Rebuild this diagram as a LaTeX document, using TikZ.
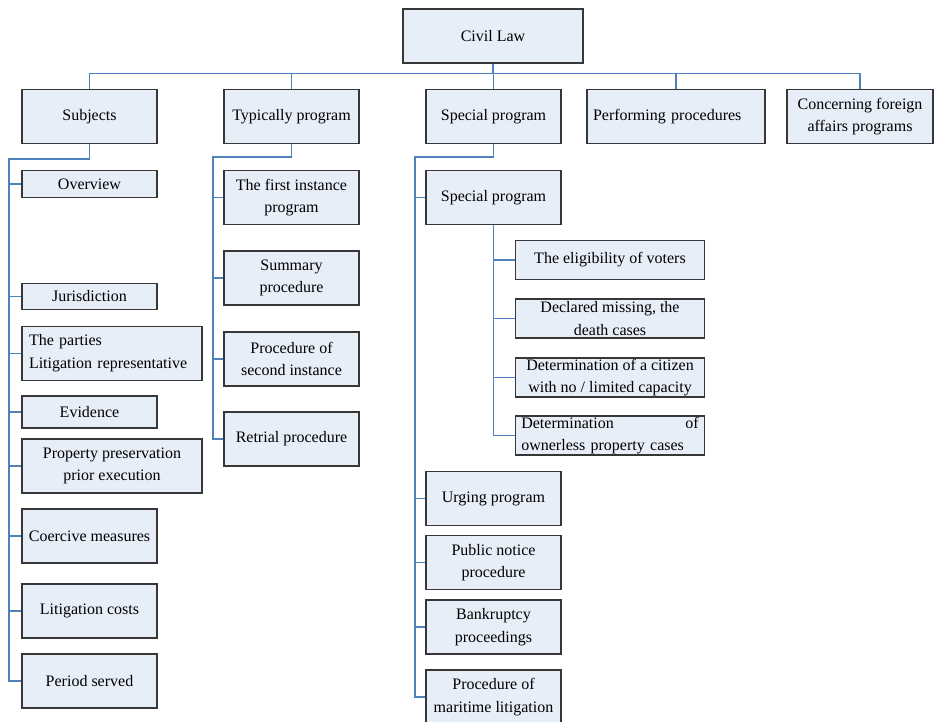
\documentclass[tikz,border=0pt]{standalone}
\usepackage{fontspec}
\setmainfont{Liberation Serif}
\usepackage{tikz}
\definecolor{boxfill}{RGB}{232,238,247}
\definecolor{boxline}{RGB}{55,55,55}
\definecolor{linkblue}{RGB}{79,129,189}
\begin{document}
\begin{tikzpicture}[x=0.75pt, y=-0.75pt,
    every node/.style={rectangle, draw=boxline, fill=boxfill, line width=0.8pt,
        inner sep=2pt, align=center, font=\fontsize{12}{17}\selectfont},
    link/.style={draw=linkblue, line width=0.8pt},
    top/.style={minimum width=101.25pt, minimum height=41pt},
    std/.style={minimum width=101.25pt, minimum height=40.5pt},
    wide/.style={minimum width=135pt, minimum height=40.5pt},
    thin/.style={minimum width=101.25pt, minimum height=20pt},
    sub/.style={minimum width=141.75pt, minimum height=29.25pt, inner ysep=0.3pt}]
\useasboundingbox (0,0) rectangle (934,721);
% root and first level
\node[wide] (civil) at (493,36) {Civil Law};
\node[top] (subj) at (89.5,116.5) {Subjects};
\node[top] (typ) at (291.5,116.5) {Typically program};
\node[top] (spec) at (493.5,116.5) {Special program};
\node[top, minimum width=133.5pt, text width=124.5pt, inner xsep=4.5pt, align=left] (perf) at (676,116.5) {Performing procedures};
\node[top, minimum width=109.5pt] (forgn) at (860,116.5) {Concerning foreign\\affairs programs};
% subjects
\node[thin] (overview) at (89.5,184) {Overview};
\node[thin] (juris) at (89.5,296.5) {Jurisdiction};
\node[wide, text width=124.5pt, inner xsep=5pt, align=left] (parties) at (112,353.5) {The parties\\Litigation representative};
\node[thin, minimum height=24pt] (evid) at (89.5,412) {Evidence};
\node[wide] (prop) at (112,466) {Property preservation\\prior execution};
\node[std] (coerc) at (89.5,536) {Coercive measures};
\node[std] (costs) at (89.5,611) {Litigation costs};
\node[std] (period) at (89.5,681) {Period served};
% typically program
\node[std] (first) at (291.5,197.5) {The first instance\\program};
\node[std] (summ) at (291.5,278) {Summary\\procedure};
\node[std] (second) at (291.5,359) {Procedure of\\second instance};
\node[std] (retrial) at (291.5,439) {Retrial procedure};
% special program
\node[std] (specp) at (493.5,197.5) {Special program};
\node[sub] (voters) at (610,260) {The eligibility of voters};
\node[sub] (missing) at (610,318.5) {Declared missing, the\\death cases};
\node[sub] (capac) at (610,377.5) {Determination of a citizen\\with no / limited capacity};
\node[sub, text width=133pt, align=left] (ownerless) at (610,435.5) {\hbox to 133pt{Determination\hfill of}\\ownerless property cases};
\node[std] (urging) at (493.5,498.5) {Urging program};
\node[std] (notice) at (493.5,562.5) {Public notice\\procedure};
\node[std] (bankr) at (493.5,627) {Bankruptcy\\proceedings};
\node[std] (maritime) at (493.5,697) {Procedure of\\maritime litigation};
% connectors
\draw[link] (civil.south) -- ++(0,10) coordinate (bus);
\foreach \n in {subj,typ,spec,perf,forgn}
    \draw[link] (bus) -| (\n.north);
\coordinate (sj) at (9,159);
\draw[link] (subj.south) |- (sj) |- (period.west);
\foreach \n in {overview,juris,parties,evid,prop,coerc,costs}
    \draw[link] (sj |- \n.west) -- (\n.west);
\coordinate (tj) at (213,157);
\draw[link] (typ.south) |- (tj) |- (retrial.west);
\foreach \n in {first,summ,second}
    \draw[link] (tj |- \n.west) -- (\n.west);
\coordinate (pj) at (415,157);
\draw[link] (spec.south) |- (pj) |- (maritime.west);
\foreach \n in {specp,urging,notice,bankr}
    \draw[link] (pj |- \n.west) -- (\n.west);
\draw[link] (specp.south) |- (ownerless.west);
\foreach \n in {voters,missing,capac}
    \draw[link] (specp.south |- \n.west) -- (\n.west);
\end{tikzpicture}
\end{document}
